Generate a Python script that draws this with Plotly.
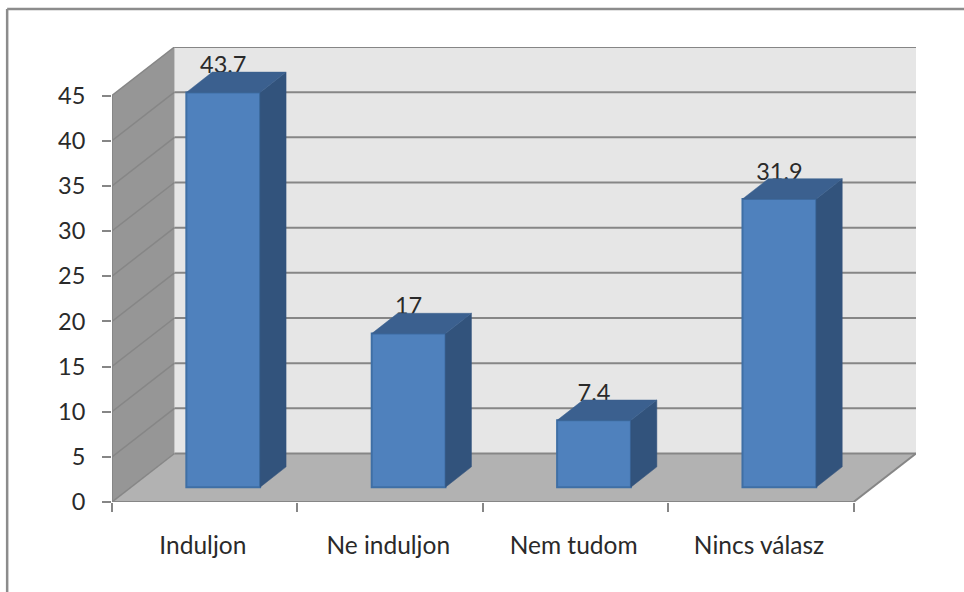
import plotly.graph_objects as go

CATEGORIES = ["Induljon", "Ne induljon", "Nem tudom", "Nincs válasz"]
VALUES = [43.7, 17, 7.4, 31.9]
Y_TICKS = [0, 5, 10, 15, 20, 25, 30, 35, 40, 45]
X_EDGES = [0, 1, 2, 3, 4]

# depth of the fake 3d box, in axis units
DEPTH_X = 0.337
DEPTH_Y = 5.37
BAR_WIDTH = 0.398
BAR_SHIFT_X = 0.1
BAR_BASE = 1.64
BAR_DEPTH_X = 0.14
BAR_DEPTH_Y = 2.25

GRID = "#868686"
TEXT = "#2a2a2a"
FONT = dict(family="Lato, Carlito, sans-serif", size=23.5, color=TEXT)
CAT_FONT = dict(family="Lato, Carlito, sans-serif", size=24.5, color=TEXT)

centers = [i + 0.5 + BAR_SHIFT_X for i in range(len(CATEGORIES))]


def polygon(points, color):
    path = "M " + " L ".join(f"{x},{y}" for x, y in points) + " Z"
    return dict(type="path", path=path, xref="x", yref="y", layer="below",
                fillcolor=color, line=dict(width=0))


def segment(x0, y0, x1, y1, width=1.5):
    return dict(type="line", x0=x0, y0=y0, x1=x1, y1=y1, xref="x", yref="y",
                layer="below", line=dict(color=GRID, width=width))


top = max(Y_TICKS)
shapes = [
    polygon([(DEPTH_X, DEPTH_Y), (4 + DEPTH_X, DEPTH_Y), (4 + DEPTH_X, top + DEPTH_Y),
             (DEPTH_X, top + DEPTH_Y)], "#e6e6e6"),
    polygon([(0, 0), (DEPTH_X, DEPTH_Y), (DEPTH_X, top + DEPTH_Y), (0, top)], "#969696"),
    polygon([(0, 0), (4, 0), (4 + DEPTH_X, DEPTH_Y), (DEPTH_X, DEPTH_Y)], "#b2b2b2"),
]
for v in Y_TICKS:
    shapes.append(segment(DEPTH_X, v + DEPTH_Y, 4 + DEPTH_X, v + DEPTH_Y, 2))
    if v > 0:
        shapes.append(segment(0, v, DEPTH_X, v + DEPTH_Y))
shapes += [
    segment(0, 0, 0, top, 2),
    segment(0, 0, 4, 0, 2),
    segment(0, 0, DEPTH_X, DEPTH_Y),
    segment(4, 0, 4 + DEPTH_X, DEPTH_Y, 2),
]
# outer frame of the chart area, only left and top edges are in the picture
shapes.append(dict(type="line", xref="paper", yref="paper", x0=-0.1304, y0=1.0835, x1=1.1, y1=1.0835,
                   line=dict(color="#8c8c8c", width=2.5)))
shapes.append(dict(type="line", xref="paper", yref="paper", x0=-0.1304, y0=1.0835, x1=-0.1304, y1=-0.3,
                   line=dict(color="#8c8c8c", width=2.5)))

fig = go.Figure()

fig.add_trace(go.Bar(
    x=centers,
    y=VALUES,
    base=BAR_BASE,
    width=BAR_WIDTH,
    marker=dict(color="#4f81bd", line=dict(color="#3f6fa5", width=2)),
    showlegend=False,
))

fig.add_trace(go.Scatter(
    x=centers,
    y=[v + BAR_BASE + 2.8 for v in VALUES],
    mode="text",
    text=[str(v) for v in VALUES],
    textposition="middle center",
    textfont=FONT,
    cliponaxis=False,
    showlegend=False,
))

for c, v in zip(centers, VALUES):
    left = c - BAR_WIDTH / 2
    right = c + BAR_WIDTH / 2
    y0 = BAR_BASE
    y1 = BAR_BASE + v
    fig.add_trace(go.Scatter(
        x=[right, right + BAR_DEPTH_X, right + BAR_DEPTH_X, right, right],
        y=[y0, y0 + BAR_DEPTH_Y, y1 + BAR_DEPTH_Y, y1, y0],
        mode="lines",
        fill="toself",
        fillcolor="#32537c",
        line=dict(color="#32537c", width=0.5),
        showlegend=False,
    ))
    fig.add_trace(go.Scatter(
        x=[left, left + BAR_DEPTH_X, right + BAR_DEPTH_X, right, left],
        y=[y1, y1 + BAR_DEPTH_Y, y1 + BAR_DEPTH_Y, y1, y1],
        mode="lines",
        fill="toself",
        fillcolor="#3b608f",
        line=dict(color="#3b608f", width=0.5),
        showlegend=False,
    ))

fig.update_layout(
    width=964,
    height=592,
    margin=dict(l=112, r=47.5, t=47, b=90),
    paper_bgcolor="white",
    plot_bgcolor="white",
    font=FONT,
    shapes=shapes,
    xaxis=dict(
        range=[0, 4 + DEPTH_X],
        tickvals=[i + 0.49 for i in range(len(CATEGORIES))],
        ticktext=CATEGORIES,
        tickfont=CAT_FONT,
        ticks="",
        ticklabelstandoff=26,
        showgrid=False,
        zeroline=False,
        showline=False,
        minor=dict(tickvals=X_EDGES, ticks="outside", ticklen=9, tickwidth=2,
                   tickcolor=GRID, showgrid=False),
    ),
    yaxis=dict(
        range=[0, top + DEPTH_Y],
        tickvals=Y_TICKS,
        ticks="outside",
        ticklen=9,
        tickwidth=2,
        tickcolor=GRID,
        ticklabelstandoff=12,
        showgrid=False,
        zeroline=False,
        showline=False,
    ),
)

# page has a default body margin that would shift the chart by 8px
fig.write_html("out.html", config=dict(displayModeBar=False),
               post_script="document.body.style.margin='0';")
